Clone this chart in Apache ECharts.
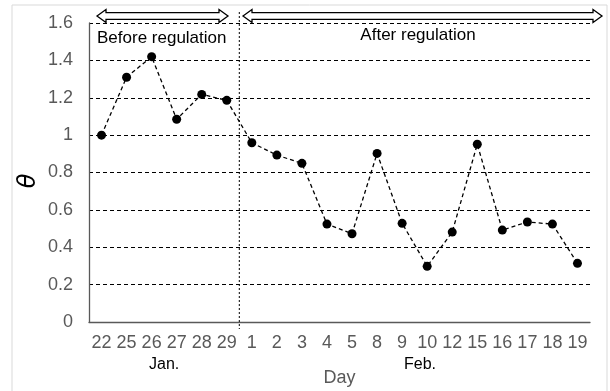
<!DOCTYPE html>
<html><head><meta charset="utf-8">
<script src="https://cdn.jsdelivr.net/npm/echarts@6/dist/echarts.min.js"></script>
<style>html,body{margin:0;padding:0;background:#fff}#c{width:610px;height:391px}</style>
</head><body><div id="c"></div>
<script>
const days = ['22','25','26','27','28','29','1','2','3','4','5','8','9','10','12','15','16','17','18','19'];
const theta = [1.00,1.31,1.42,1.085,1.218,1.186,0.959,0.893,0.849,0.524,0.472,0.902,0.528,0.298,0.481,0.951,0.492,0.535,0.524,0.314];
const yTicks = [0,0.2,0.4,0.6,0.8,1,1.2,1.4,1.6];
const periodLabels = ['Before regulation','After regulation'];
const monthLabels = ['Jan.','Feb.'];

const chart = echarts.init(document.getElementById('c'), null, {renderer:'canvas'});
const font = '"Liberation Sans", Arial, sans-serif';

function arrow(x1, x2, cy){
  const hl = 9, hh = 6.5, sh = 3.3;
  return [[x1,cy],[x1+hl,cy-hh],[x1+hl,cy-sh],[x2-hl,cy-sh],[x2-hl,cy-hh],[x2,cy],[x2-hl,cy+hh],[x2-hl,cy+sh],[x1+hl,cy+sh],[x1+hl,cy+hh]];
}

chart.setOption({
  animation:false,
  backgroundColor:'#fff',
  grid:{left:89,right:20,top:23,bottom:69,containLabel:false,outerBoundsMode:'none'},
  xAxis:{
    type:'category', data:days, boundaryGap:true,
    axisLine:{lineStyle:{color:'#595959',width:1.3}},
    axisTick:{show:false},
    axisLabel:{color:'#595959',fontSize:18,fontFamily:font,margin:12,interval:0},
    name:'Day', nameLocation:'middle', nameGap:47,
    nameTextStyle:{color:'#595959',fontSize:18,fontFamily:font}
  },
  yAxis:{
    type:'value', min:yTicks[0], max:yTicks[yTicks.length-1], interval:0.2,
    axisLine:{show:true,lineStyle:{color:'#595959',width:1.3}},
    axisTick:{show:false},
    axisLabel:{color:'#595959',fontSize:18,fontFamily:font,margin:16},
    splitLine:{show:true,lineStyle:{color:'#000',type:[4,3],width:1}}
  },
  series:[{
    type:'line', data:theta,
    symbol:'circle', symbolSize:9,
    itemStyle:{color:'#000'},
    lineStyle:{color:'#000',width:1.3,type:[4,3]}
  }]
});

const xMid = (chart.convertToPixel({xAxisIndex:0},5) + chart.convertToPixel({xAxisIndex:0},6))/2;
const xJan = (chart.convertToPixel({xAxisIndex:0},0) + chart.convertToPixel({xAxisIndex:0},5))/2;
const xFeb = 420;

chart.setOption({
  graphic:[
    {type:'rect',shape:{x:12,y:5,width:595,height:400},style:{fill:null,stroke:'#d9d9d9',lineWidth:1},z:-1,silent:true},
    {type:'line',shape:{x1:xMid,y1:12,x2:xMid,y2:329},style:{stroke:'#000',lineWidth:1,lineDash:[2,2]},z:10},
    {type:'polygon',shape:{points:arrow(97,228,16)},style:{fill:'#fff',stroke:'#000',lineWidth:1.3},z:11},
    {type:'polygon',shape:{points:arrow(243,602,16)},style:{fill:'#fff',stroke:'#000',lineWidth:1.3},z:11},
    {type:'text',x:97,y:38,style:{text:periodLabels[0],font:'17px '+font,fill:'#000',textAlign:'left',textVerticalAlign:'middle'},z:12},
    {type:'text',x:418,y:35,style:{text:periodLabels[1],font:'17px '+font,fill:'#000',textAlign:'center',textVerticalAlign:'middle'},z:12},
    {type:'text',x:xJan,y:365,style:{text:monthLabels[0],font:'16px '+font,fill:'#000',textAlign:'center',textVerticalAlign:'middle'},z:12},
    {type:'text',x:xFeb,y:365,style:{text:monthLabels[1],font:'16px '+font,fill:'#000',textAlign:'center',textVerticalAlign:'middle'},z:12},
    {type:'text',x:29,y:181,rotation:Math.PI/2,style:{text:'θ',font:'italic 24px "DejaVu Sans", sans-serif',fill:'#000',textAlign:'center',textVerticalAlign:'middle'},z:12}
  ]
});
</script></body></html>
